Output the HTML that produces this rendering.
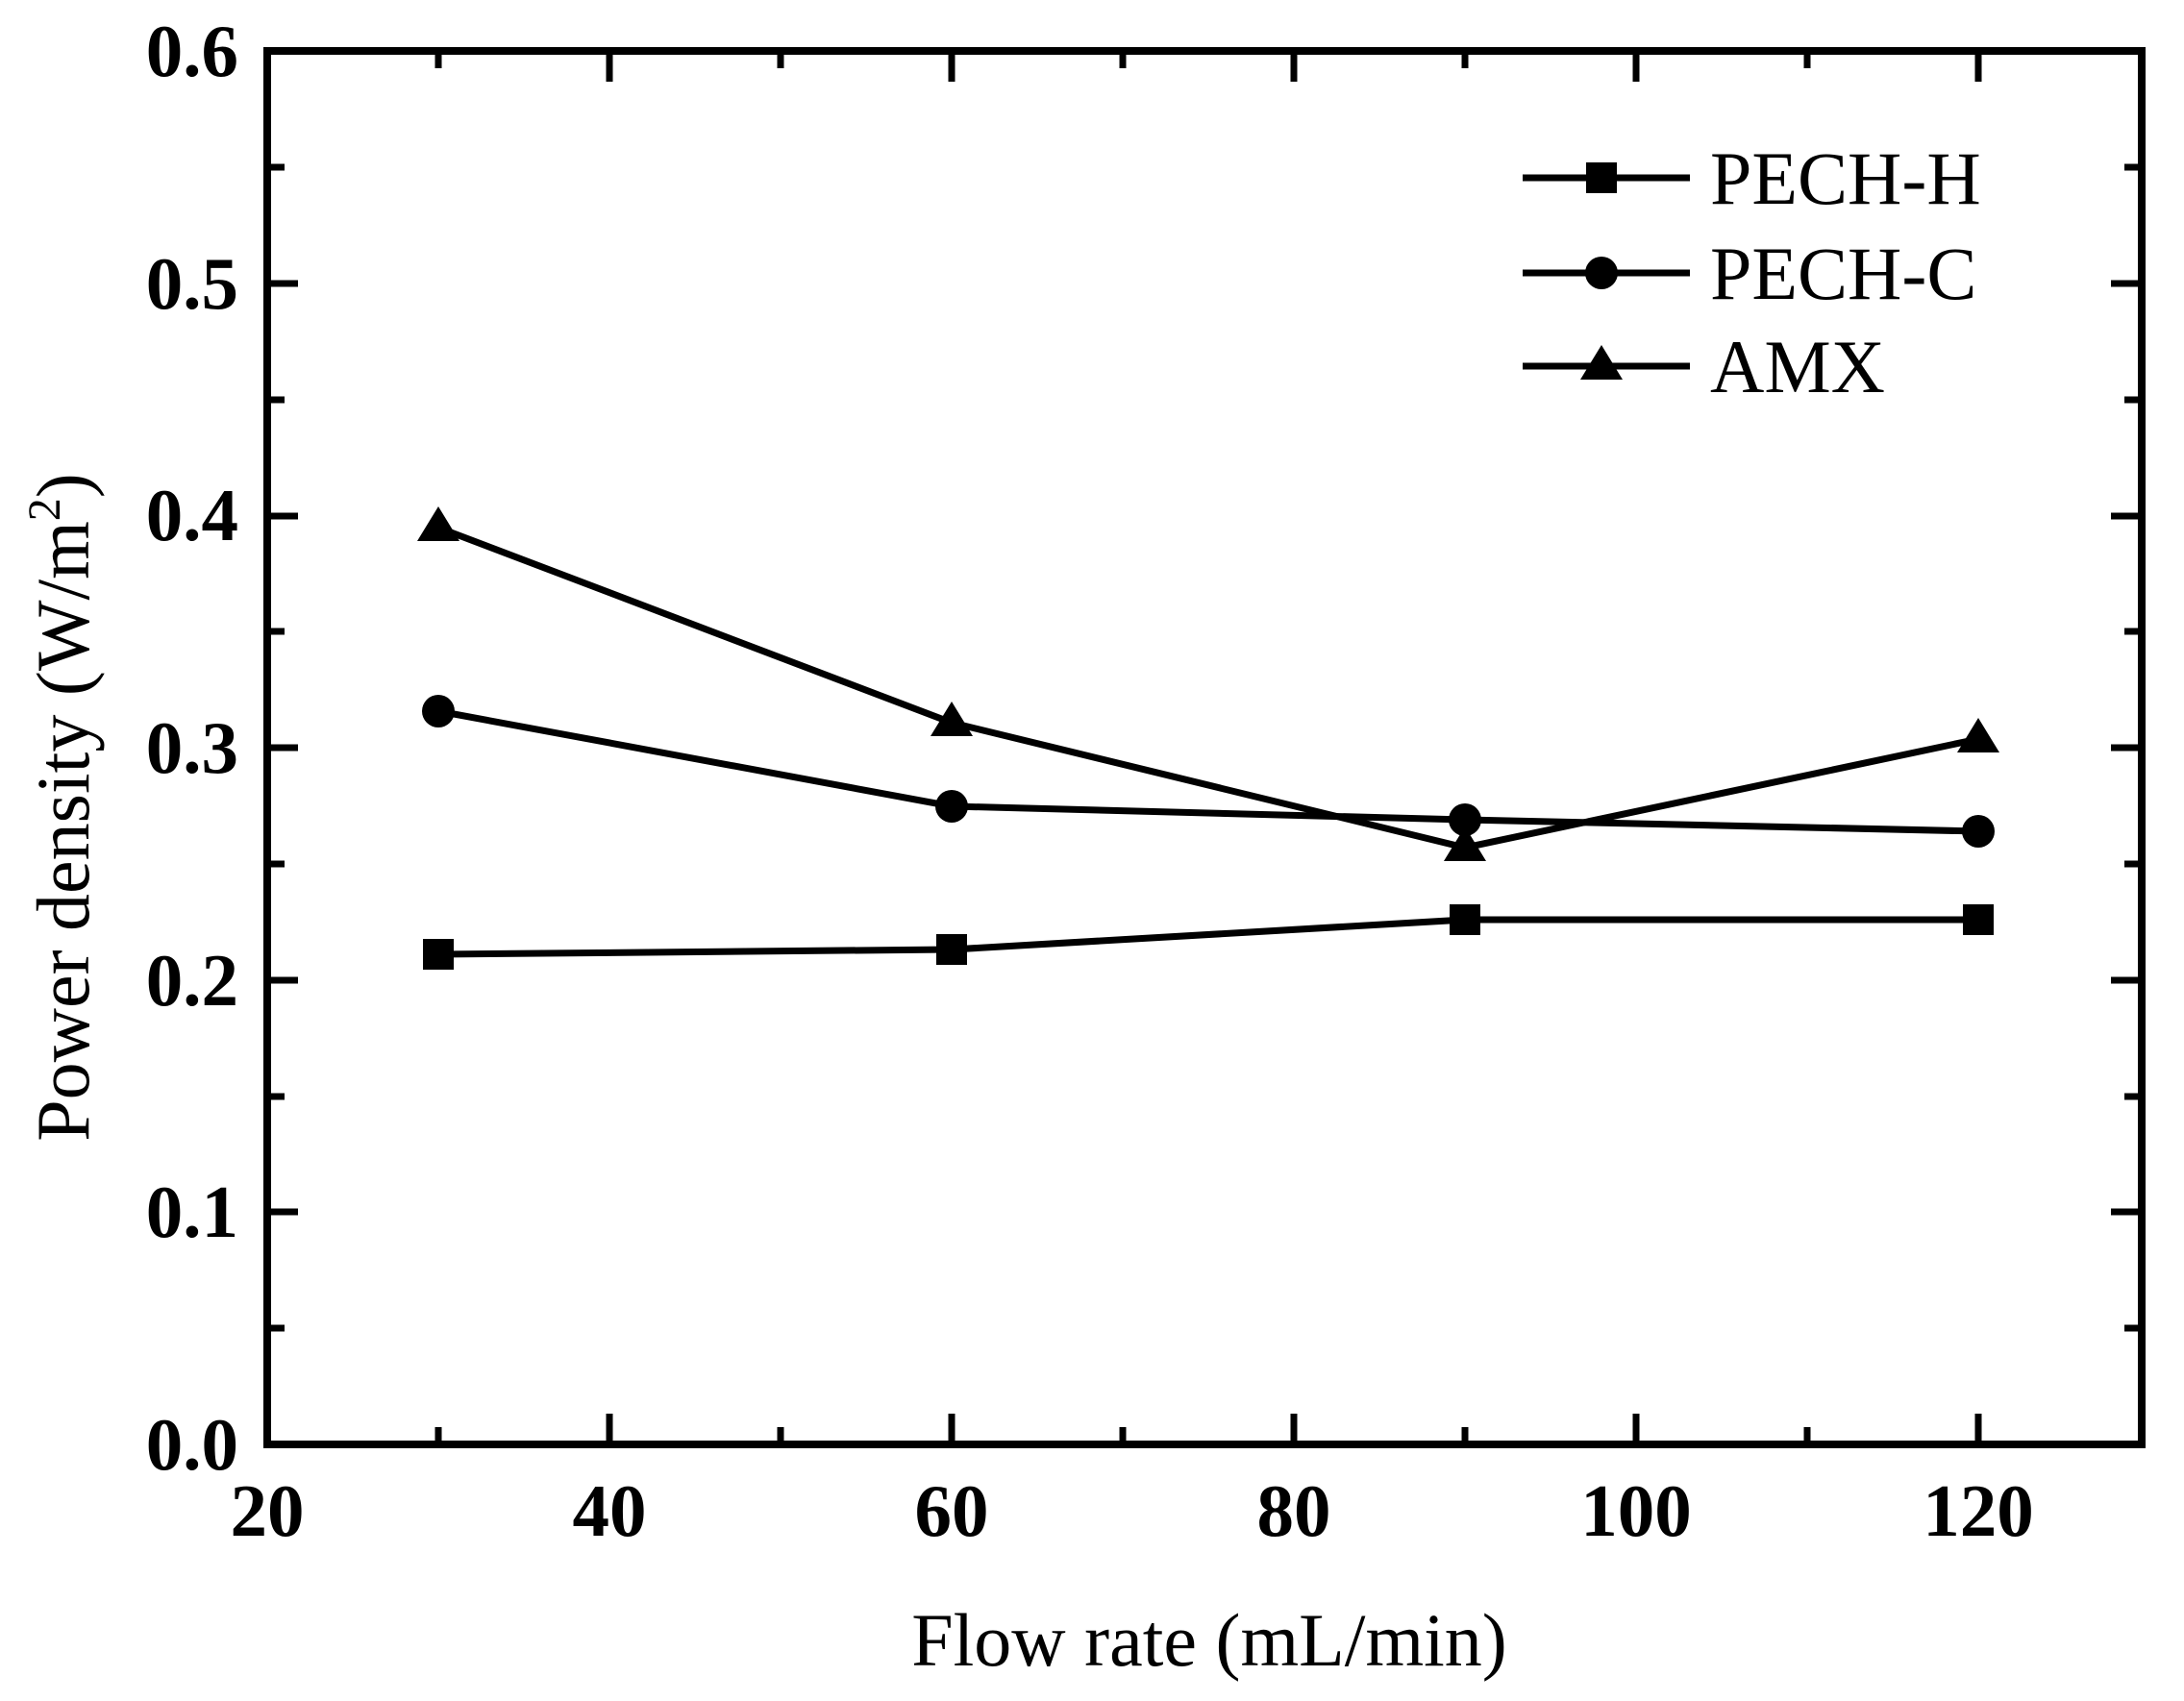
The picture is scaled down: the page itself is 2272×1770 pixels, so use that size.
<!DOCTYPE html>
<html><head><style>body{margin:0;background:#fff}</style></head><body>
<svg width="2272" height="1765" viewBox="0 0 2272 1765" xmlns="http://www.w3.org/2000/svg" font-family="Liberation Serif, serif">
<g stroke="#000" stroke-width="7" fill="none">
<rect x="278" y="53" width="1950" height="1450" stroke-width="8"/>
<path d="M278 53h32M278 174h18M278 295h32M278 416h18M278 537h32M278 657h18M278 778h32M278 899h18M278 1020h32M278 1141h18M278 1261h32M278 1382h18"/>
<path d="M2228 53h-32M2228 174h-18M2228 295h-32M2228 416h-18M2228 537h-32M2228 657h-18M2228 778h-32M2228 899h-18M2228 1020h-32M2228 1141h-18M2228 1261h-32M2228 1382h-18"/>
<path d="M456 1503v-18M634 1503v-32M812 1503v-18M990 1503v-32M1168 1503v-18M1346 1503v-32M1524 1503v-18M1702 1503v-32M1880 1503v-18M2058 1503v-32"/>
<path d="M456 53v18M634 53v32M812 53v18M990 53v32M1168 53v18M1346 53v32M1524 53v18M1702 53v32M1880 53v18M2058 53v32"/>
<polyline points="456,993 990,988 1524,957 2058,957"/>
<polyline points="456,740 990,839 1524,853 2058,865"/>
<polyline points="456,549 990,752 1524,882 2058,769"/>
<path d="M1584 185h174M1584 284h174M1584 381h174"/>
</g>
<g fill="#000">
<rect x="440" y="977" width="32" height="32"/><rect x="974" y="972" width="32" height="32"/><rect x="1508" y="941" width="32" height="32"/><rect x="2042" y="941" width="32" height="32"/>
<circle cx="456" cy="740" r="17"/><circle cx="990" cy="839" r="17"/><circle cx="1524" cy="853" r="17"/><circle cx="2058" cy="865" r="17"/>
<path d="M456 527l-22 36h44zM990 730l-22 36h44zM1524 860l-22 36h44zM2058 747l-22 36h44z"/>
<rect x="1650" y="169" width="32" height="32"/>
<circle cx="1666" cy="284" r="17"/>
<path d="M1666 359l-22 36h44z"/>
</g>
<g font-weight="bold" font-size="77" text-anchor="end">
<text x="248" y="79">0.6</text><text x="248" y="321">0.5</text><text x="248" y="562">0.4</text><text x="248" y="804">0.3</text><text x="248" y="1046">0.2</text><text x="248" y="1287">0.1</text><text x="248" y="1529">0.0</text>
</g>
<g font-weight="bold" font-size="77" text-anchor="middle">
<text x="278" y="1598">20</text><text x="634" y="1598">40</text><text x="990" y="1598">60</text><text x="1346" y="1598">80</text><text x="1702" y="1598">100</text><text x="2058" y="1598">120</text>
</g>
<g font-size="78">
<text x="1779" y="212">PECH-H</text><text x="1779" y="311">PECH-C</text><text x="1779" y="408">AMX</text>
<text x="1258" y="1733" text-anchor="middle">Flow rate (mL/min)</text>
<text transform="translate(92,840) rotate(-90)" text-anchor="middle">Power density (W/m<tspan font-size="48" dy="-30">2</tspan><tspan dy="30">)</tspan></text>
</g>
</svg>
</body></html>
